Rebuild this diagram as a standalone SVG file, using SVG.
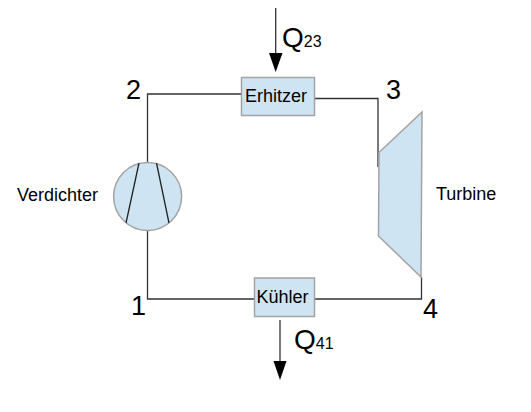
<svg xmlns="http://www.w3.org/2000/svg" width="531" height="412" viewBox="0 0 531 412">
<style>
text{font-family:"Liberation Sans",Arial,sans-serif;fill:#000}
.shape{fill:#cfe4f3;stroke:#a3a3a3;stroke-width:1.5}
.line{fill:none;stroke:#333;stroke-width:1.3}
.arrow{fill:none;stroke:#333;stroke-width:1.3}
.blade{fill:none;stroke:#222;stroke-width:1.3}
.num{font-size:27px}
.lbl{font-size:18px}
.q{font-size:28px}
.sub{font-size:16px}
</style>
<g id="connectors">
<path class="line" d="M241 94H147.500V163"/>
<path class="line" d="M147.500 231V299H254.500"/>
<path class="line" d="M314 98.500H378V167"/>
<path class="line" d="M421.500 277V299H314"/>
<line class="arrow" x1="275.700" y1="8" x2="275.700" y2="54"/>
<path d="M269 53H282.500L275.700 72Z" fill="#000"/>
<line class="arrow" x1="280" y1="320" x2="280" y2="362"/>
<path d="M273.500 361H286.500L280 380Z" fill="#000"/>
</g>
<g id="erhitzer"><rect class="shape" x="241.500" y="77.500" width="73" height="38"/><text class="lbl" x="245" y="101.500">Erhitzer</text></g>
<g id="kuehler"><rect class="shape" x="254.500" y="278" width="60" height="38.500"/><text class="lbl" x="256.500" y="303">Kühler</text></g>
<g id="verdichter"><circle class="shape" cx="147.600" cy="196.500" r="34"/><line class="blade" x1="139" y1="163" x2="126" y2="223"/><line class="blade" x1="156.500" y1="163" x2="169" y2="223"/><text class="lbl" x="17" y="201">Verdichter</text></g>
<g id="turbine"><path class="shape" d="M379 152.500L422 112L421 277L378.500 236Z"/><text class="lbl" x="436" y="200">Turbine</text></g>
<g id="labels">
<text class="num" x="126" y="99">2</text>
<text class="num" x="386" y="99">3</text>
<text class="num" x="423" y="318">4</text>
<text class="num" x="131" y="315">1</text>
<text class="q" x="282" y="47">Q<tspan class="sub">23</tspan></text>
<text class="q" x="294" y="349">Q<tspan class="sub">41</tspan></text>
</g>
</svg>
